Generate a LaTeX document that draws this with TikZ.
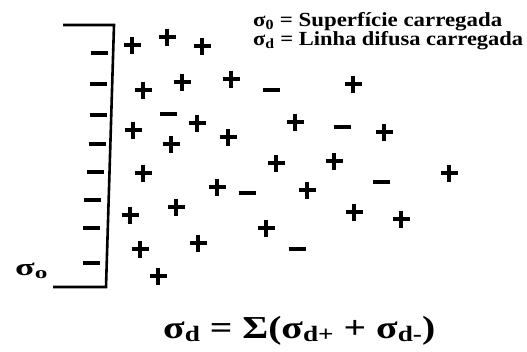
\documentclass[tikz,border=0pt]{standalone}
\usepackage{fontspec}
\setmainfont{Liberation Serif}
\begin{document}
\begin{tikzpicture}[x=1pt, y=-1pt,
    charge/.style={line width=3.2pt},
    wall/.style={line width=2.6pt},
    label/.style={font=\bfseries, inner sep=0pt, anchor=base west}]
    \useasboundingbox (0,0) rectangle (527,351);

    % 1. Charged surface with its negative charges
    \draw[wall] (63,25) -- (114,25) -- (106,287) -- (53,287);
    \foreach \x/\y in {99/53, 98/84, 98/115, 97/144, 95/172, 92/200, 91/228, 91/263} {
        \draw[charge] (\x-8.5,\y) -- (\x+8.5,\y);
    }

    % 2. Diffuse layer: positive charges
    \foreach \x/\y in {132/45, 167/37, 202/46, 143/90, 182/82, 231/79, 353/84,
                       133/130, 197/123, 171/144, 228/137, 295/122, 384/132,
                       143/173, 276/163, 334/161, 449/173, 217/187, 307/190,
                       130/215, 176/207, 354/212, 401/219, 266/228,
                       140/249, 198/243, 158/276} {
        \draw[charge] (\x-8.5,\y) -- (\x+8.5,\y) (\x,\y-8.5) -- (\x,\y+8.5);
    }

    % 3. Diffuse layer: negative charges
    \foreach \x/\y in {168/114, 271/90, 342/127, 247/193, 381/182, 297/249} {
        \draw[charge] (\x-8.5,\y) -- (\x+8.5,\y);
    }

    % 4. Labels
    \node[label] (legsurf) at (253,26)
        {\fontsize{20}{20}\selectfont\resizebox{249pt}{\height}{σ\textsubscript{0} = Superfície carregada}};
    \node[label] (legdiff) at (253,45)
        {\fontsize{20}{20}\selectfont\resizebox{270pt}{\height}{σ\textsubscript{d} = Linha difusa carregada}};
    \node[label] (sigmazero) at (15,275)
        {\fontsize{24}{24}\selectfont\resizebox{33pt}{\height}{σ\textsubscript{o}}};
    \node[label] (sumrule) at (163,338)
        {\fontsize{32}{32}\selectfont\resizebox{272pt}{\height}{σ\raisebox{-3pt}{\fontsize{22}{22}\selectfont d} = Σ(σ\raisebox{-3pt}{\fontsize{22}{22}\selectfont d+} + σ\raisebox{-3pt}{\fontsize{22}{22}\selectfont d-})}};
\end{tikzpicture}
\end{document}
